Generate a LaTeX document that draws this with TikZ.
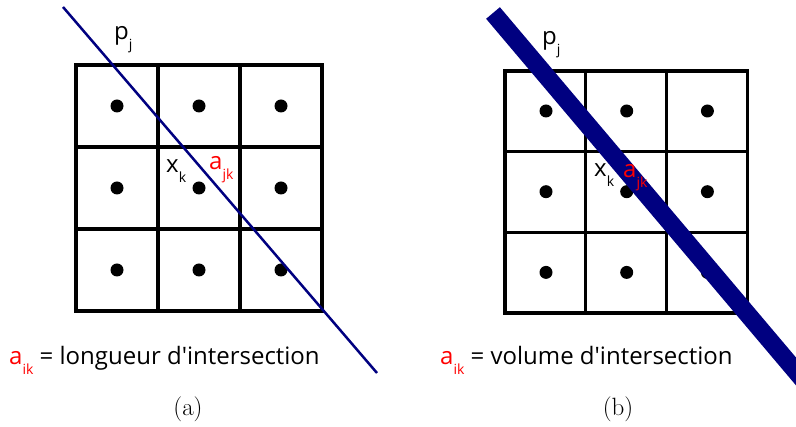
\documentclass[tikz,border=0pt]{standalone}
\usepackage{fontspec}
\setsansfont{Open Sans}
\usepackage{tikz}
\usetikzlibrary{arrows.meta,positioning,calc}
\definecolor{rayblue}{RGB}{0,0,128}
\definecolor{ajkred}{RGB}{255,0,0}
\newcommand{\lsub}[1]{\raisebox{-10pt}{\fontsize{14}{14}\selectfont #1}}

\begin{document}
\begin{tikzpicture}[x=1pt, y=-1pt,
    gridline/.style={line width=3.2pt, black},
    lbl/.style={font=\sffamily\fontsize{24}{29}\selectfont, anchor=base west, inner sep=0pt},
    subcap/.style={font=\fontsize{25}{30}\selectfont, inner sep=0pt}]
    \useasboundingbox (0,0) rectangle (796,427);
    % (a) grid of cells with centre points
    \foreach \i in {0,1,2} {
      \foreach \j in {0,1,2} {
        \draw[gridline] (76+82*\i, 65+82*\j) rectangle ++(82,82);
        \fill (117+82*\i, 106+82*\j) circle (6.5pt);
      }
    }
    % (a) thin ray
    \coordinate (raya1) at (63,7);
    \coordinate (raya2) at (377,373);
    \draw[rayblue, line width=2.5pt] (raya1) -- (raya2);
    \node[lbl] (pja) at (114,40) {p\lsub{j}};
    \node[lbl] (xka) at (166,173) {x\lsub{k}};
    \node[lbl, ajkred] (ajka) at (209,170) {a\lsub{jk}};
    \node[lbl] (defa) at (9,365) {\textcolor{ajkred}{a\lsub{ik}} = longueur d\textquotesingle intersection};
    \node[subcap] (capa) at (188,409) {(a)};
    % (b) grid of cells with centre points
    \foreach \i in {0,1,2} {
      \foreach \j in {0,1,2} {
        \draw[gridline] (505+80.7*\i, 71+80.7*\j) rectangle ++(80.7,80.7);
        \fill (546+80.7*\i, 111+80.7*\j) circle (6.5pt);
      }
    }
    % (b) thick ray
    \coordinate (rayb1) at (493,13);
    \coordinate (rayb2) at (810,388);
    \begin{scope}
      \clip (0,0) rectangle (796,427);
      \draw[rayblue, line width=18pt] (rayb1) -- (rayb2);
    \end{scope}
    \node[lbl] (pjb) at (542,45) {p\lsub{j}};
    \node[lbl] (xkb) at (594,177) {x\lsub{k}};
    \node[lbl, ajkred] (ajkb) at (623,178) {a\lsub{jk}};
    \node[lbl] (defb) at (440,365) {\textcolor{ajkred}{a\lsub{ik}} = volume d\textquotesingle intersection};
    \node[subcap] (capb) at (618,409) {(b)};
\end{tikzpicture}
\end{document}
